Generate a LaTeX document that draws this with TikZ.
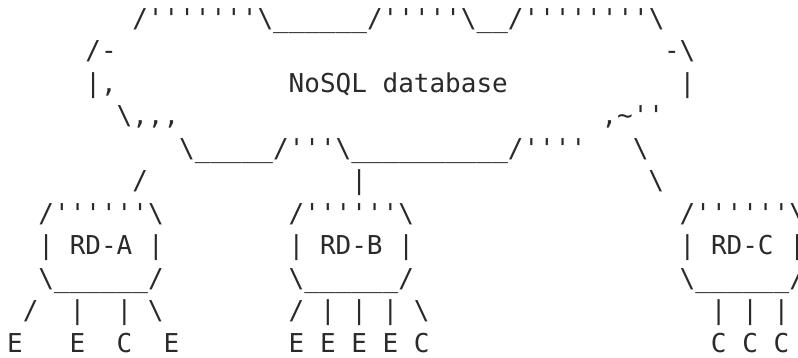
\documentclass[tikz,border=0pt]{standalone}
\usepackage{fontspec}
\setmonofont{DejaVu Sans Mono}
\definecolor{inkc}{HTML}{2A2A2A}
\newcommand\asciifont{\ttfamily\fontsize{26}{32}\selectfont}
\newcommand\bsl{\textbackslash}
\newcommand\usc{\_}
\newcommand\place[4]{\node[ascii] (#1) at ({7.18+15.64*#2},{330.5-32.5*#3}) {#4};}
\tikzset{ascii/.style={anchor=base west, inner sep=0pt, outer sep=0pt, font=\asciifont, text=inkc}}
\begin{document}
\begin{tikzpicture}[x=1pt,y=1pt]
\fill[white] (0,0) rectangle (798,358);
\useasboundingbox (0,0) rectangle (798,358);
% database cloud
\place{dbTop}{8}{0}{/'''''''\bsl\usc\usc\usc\usc\usc\usc/'''''\bsl\usc\usc/''''''''\bsl}
\place{dbTL}{5}{1}{/-}
\place{dbTR}{42}{1}{-\bsl}
\place{dbL}{5}{2}{|,}
\place{db}{18}{2}{NoSQL database}
\place{dbR}{43}{2}{|}
\place{dbBL}{7}{3}{\bsl,,,}
\place{dbBR}{38}{3}{,\textasciitilde''}
\place{dbBot}{11}{4}{\bsl\usc\usc\usc\usc\usc/'''\bsl\usc\usc\usc\usc\usc\usc\usc\usc\usc\usc/''''}
% links to RDs
\place{lnCa}{40}{4}{\bsl}
\place{lnA}{8}{5}{/}
\place{lnB}{22}{5}{|}
\place{lnCb}{41}{5}{\bsl}
% RD boxes
\place{rdAtop}{2}{6}{/''''''\bsl}
\place{rdBtop}{18}{6}{/''''''\bsl}
\place{rdCtop}{43}{6}{/''''''\bsl}
\place{rdA}{2}{7}{| RD-A |}
\place{rdB}{18}{7}{| RD-B |}
\place{rdC}{43}{7}{| RD-C |}
\place{rdAbot}{2}{8}{\bsl\usc\usc\usc\usc\usc\usc/}
\place{rdBbot}{18}{8}{\bsl\usc\usc\usc\usc\usc\usc/}
\place{rdCbot}{43}{8}{\bsl\usc\usc\usc\usc\usc\usc/}
% links to endpoints / clients
\place{la1}{1}{9}{/}
\place{la2}{4}{9}{|}
\place{la3}{7}{9}{|}
\place{la4}{9}{9}{\bsl}
\place{lb}{18}{9}{/ | | | \bsl}
\place{lc}{45}{9}{| | |}
% endpoints and clients
\place{eA1}{0}{10}{E}
\place{eA2}{4}{10}{E}
\place{cA}{7}{10}{C}
\place{eA3}{10}{10}{E}
\place{eB}{18}{10}{E E E E C}
\place{cC}{45}{10}{C C C}
\end{tikzpicture}
\end{document}
